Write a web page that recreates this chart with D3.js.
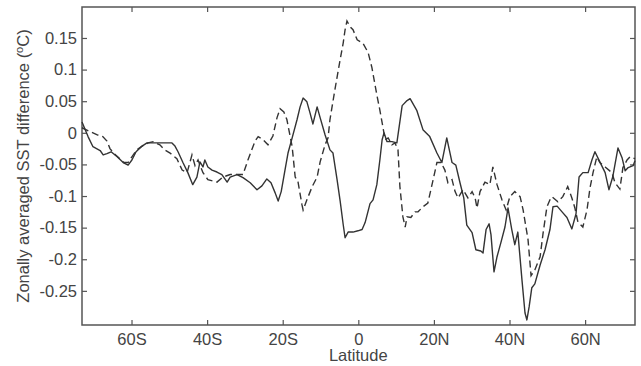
<!DOCTYPE html>
<html>
<head>
<meta charset="utf-8">
<script src="https://cdn.jsdelivr.net/npm/d3@7"></script>
<style>
  html, body { margin: 0; padding: 0; background: #fff; }
  svg { display: block; font-family: "Liberation Sans", Arial, sans-serif; }
  .tick text { fill: #444; font-size: 16.5px; }
  .tick line { stroke: #555; }
</style>
</head>
<body>
<div id="app"></div>
<script>
// latitude (deg, negative = south), zonally averaged SST difference (degC)
const solidLat = [-73.1, -71.5, -70.2, -68.3, -67.5, -66.5, -65.4, -63.8, -62.2, -60.9, -59.9, -58.8, -57.2, -55.9, -54.3, -52.5, -50.9, -49.3, -48.5, -47.7, -46.4, -45.1, -43.8, -42.7, -41.9, -41.1, -40.6, -39.8, -38.7, -37.4, -36.1, -34.7, -33.9, -32.1, -30.5, -28.6, -26.8, -25.5, -24.2, -23.1, -22.0, -21.2, -20.4, -19.4, -18.6, -17.5, -16.2, -15.4, -14.6, -13.6, -12.8, -12.0, -10.9, -10.1, -8.8, -7.5, -6.7, -5.6, -4.8, -4.0, -3.5, -2.7, -1.4, -0.1, 1.0, 1.8, 3.1, 3.9, 4.9, 5.7, 6.3, 6.8, 7.6, 8.9, 10.2, 11.6, 12.9, 13.7, 15.5, 17.1, 18.9, 20.8, 22.1, 23.4, 24.8, 25.8, 26.9, 27.9, 28.7, 30.1, 31.1, 32.4, 33.0, 33.8, 34.6, 35.1, 35.9, 36.7, 37.7, 38.8, 39.6, 40.6, 41.4, 42.2, 43.3, 44.1, 44.6, 45.2, 45.9, 46.7, 48.1, 49.4, 50.7, 51.5, 52.6, 53.9, 55.2, 56.5, 57.6, 58.4, 59.4, 60.8, 61.8, 62.6, 63.9, 65.3, 66.3, 67.3, 68.7, 69.8, 70.6, 71.4, 72.7, 73.2];
const solidSst = [0.017, -0.006, -0.022, -0.028, -0.035, -0.033, -0.030, -0.038, -0.047, -0.051, -0.043, -0.030, -0.021, -0.016, -0.016, -0.016, -0.016, -0.016, -0.021, -0.030, -0.047, -0.063, -0.082, -0.070, -0.046, -0.054, -0.043, -0.054, -0.059, -0.062, -0.066, -0.078, -0.070, -0.066, -0.071, -0.079, -0.090, -0.084, -0.073, -0.079, -0.095, -0.108, -0.093, -0.059, -0.032, -0.008, 0.021, 0.041, 0.055, 0.049, 0.032, 0.014, 0.041, 0.024, -0.003, -0.027, -0.032, -0.075, -0.108, -0.145, -0.166, -0.157, -0.157, -0.155, -0.153, -0.142, -0.112, -0.106, -0.082, -0.043, -0.011, 0.000, -0.014, -0.014, -0.016, 0.043, 0.051, 0.054, 0.035, 0.005, -0.006, -0.032, -0.047, -0.008, -0.047, -0.051, -0.079, -0.103, -0.146, -0.158, -0.185, -0.187, -0.190, -0.153, -0.144, -0.161, -0.220, -0.196, -0.174, -0.149, -0.119, -0.153, -0.177, -0.157, -0.233, -0.285, -0.296, -0.275, -0.245, -0.239, -0.209, -0.185, -0.153, -0.117, -0.116, -0.125, -0.134, -0.152, -0.128, -0.070, -0.063, -0.063, -0.043, -0.030, -0.046, -0.063, -0.090, -0.070, -0.024, -0.040, -0.060, -0.055, -0.052, -0.044];

const dashLat = [-73.1, -71.0, -69.2, -67.6, -66.5, -65.7, -64.6, -63.3, -62.0, -60.9, -59.9, -58.6, -57.2, -55.6, -54.3, -52.5, -51.2, -49.8, -48.0, -46.6, -45.3, -44.0, -43.2, -42.4, -41.1, -39.8, -37.4, -35.8, -33.9, -31.8, -30.5, -29.2, -27.3, -26.5, -25.2, -23.9, -22.6, -21.5, -20.7, -19.7, -18.9, -17.5, -16.7, -16.0, -14.9, -14.6, -13.6, -12.2, -10.9, -10.1, -8.8, -8.0, -7.5, -6.2, -4.8, -4.0, -3.5, -3.0, -2.2, -1.4, -0.3, 1.2, 2.6, 3.6, 4.9, 5.7, 6.3, 7.1, 7.9, 8.9, 9.7, 10.5, 11.0, 11.8, 12.4, 12.9, 13.9, 15.0, 15.8, 17.1, 18.4, 19.8, 20.8, 21.9, 22.9, 23.7, 24.8, 25.6, 26.4, 27.7, 29.0, 30.1, 30.9, 31.4, 32.2, 33.5, 34.8, 35.6, 36.7, 38.0, 39.1, 40.1, 41.4, 42.8, 43.6, 44.9, 45.7, 46.7, 48.1, 48.9, 49.9, 50.7, 51.2, 52.8, 54.1, 55.4, 56.5, 57.3, 58.1, 59.4, 60.5, 61.3, 62.1, 63.1, 63.9, 65.3, 67.1, 67.9, 69.2, 70.0, 71.1, 71.9, 73.2];
const dashSst = [0.008, 0.002, -0.003, -0.006, -0.013, -0.025, -0.033, -0.040, -0.047, -0.047, -0.038, -0.027, -0.021, -0.016, -0.014, -0.019, -0.027, -0.032, -0.041, -0.059, -0.063, -0.035, -0.052, -0.043, -0.063, -0.074, -0.078, -0.070, -0.066, -0.066, -0.066, -0.043, -0.013, -0.006, -0.011, -0.019, -0.005, 0.024, 0.038, 0.033, 0.021, -0.022, -0.070, -0.076, -0.114, -0.122, -0.106, -0.085, -0.070, -0.046, -0.019, -0.008, 0.021, 0.068, 0.116, 0.142, 0.163, 0.177, 0.168, 0.163, 0.147, 0.142, 0.127, 0.103, 0.060, 0.036, 0.016, -0.011, -0.008, -0.019, -0.016, -0.027, -0.085, -0.133, -0.149, -0.133, -0.134, -0.125, -0.125, -0.117, -0.111, -0.074, -0.047, -0.047, -0.059, -0.079, -0.074, -0.093, -0.103, -0.090, -0.103, -0.093, -0.103, -0.119, -0.093, -0.078, -0.082, -0.054, -0.082, -0.106, -0.122, -0.101, -0.093, -0.101, -0.122, -0.169, -0.226, -0.217, -0.196, -0.158, -0.117, -0.106, -0.101, -0.109, -0.101, -0.085, -0.103, -0.119, -0.141, -0.149, -0.122, -0.087, -0.063, -0.038, -0.047, -0.054, -0.063, -0.079, -0.089, -0.055, -0.043, -0.038, -0.041];

const latTicks = [-60, -40, -20, 0, 20, 40, 60];
const sstTicks = [-0.25, -0.2, -0.15, -0.1, -0.05, 0, 0.05, 0.1, 0.15];

const width = 641;
const height = 366;
const margin = { top: 7, right: 6, bottom: 41, left: 82 };
const innerW = width - margin.left - margin.right;
const innerH = height - margin.top - margin.bottom;
const tickLen = 5;

const x = d3.scaleLinear().domain([-73.1, 73.2]).range([0, innerW]);
const y = d3.scaleLinear().domain([-0.304, 0.199]).range([innerH, 0]);

const latFormat = d => d === 0 ? '0' : d < 0 ? `${-d}S` : `${d}N`;
const sstFormat = d => String(+d.toFixed(2));

const svg = d3.select('#app').append('svg')
  .attr('width', width)
  .attr('height', height);

const g = svg.append('g')
  .attr('transform', `translate(${margin.left},${margin.top})`);

// axes, ticks pointing inwards like matlab
g.append('g')
  .attr('transform', `translate(0,${innerH})`)
  .call(d3.axisBottom(x).tickValues(latTicks).tickFormat(latFormat).tickSize(-tickLen).tickPadding(8));

g.append('g')
  .call(d3.axisTop(x).tickValues(latTicks).tickFormat('').tickSize(-tickLen));

g.append('g')
  .call(d3.axisLeft(y).tickValues(sstTicks).tickFormat(sstFormat).tickSize(-tickLen).tickPadding(5));

g.append('g')
  .attr('transform', `translate(${innerW},0)`)
  .call(d3.axisRight(y).tickValues(sstTicks).tickFormat('').tickSize(-tickLen));

g.selectAll('.domain').remove();
g.selectAll('.tick line').attr('stroke-width', 1.2);

g.append('rect')
  .attr('width', innerW)
  .attr('height', innerH)
  .attr('fill', 'none')
  .attr('stroke', '#555')
  .attr('stroke-width', 1.5);

const line = d3.line()
  .x(d => x(d[0]))
  .y(d => y(d[1]));

g.append('path')
  .datum(d3.zip(solidLat, solidSst))
  .attr('d', line)
  .attr('fill', 'none')
  .attr('stroke', '#333')
  .attr('stroke-width', 1.4)
  .attr('stroke-linejoin', 'round');

g.append('path')
  .datum(d3.zip(dashLat, dashSst))
  .attr('d', line)
  .attr('fill', 'none')
  .attr('stroke', '#333')
  .attr('stroke-width', 1.4)
  .attr('stroke-dasharray', '7,4');

// labels
svg.append('text')
  .attr('x', margin.left + x(0))
  .attr('y', 361)
  .attr('text-anchor', 'middle')
  .attr('fill', '#444')
  .attr('font-size', 16.5)
  .text('Latitude');

const ylab = svg.append('text')
  .attr('transform', `translate(29,${margin.top + innerH / 2}) rotate(-90)`)
  .attr('text-anchor', 'middle')
  .attr('fill', '#444')
  .attr('font-size', 16.5);
ylab.append('tspan').text('Zonally averaged SST difference (');
ylab.append('tspan').attr('font-size', 11).attr('dy', -6).text('o');
ylab.append('tspan').attr('dy', 6).text('C)');
</script>
</body>
</html>
